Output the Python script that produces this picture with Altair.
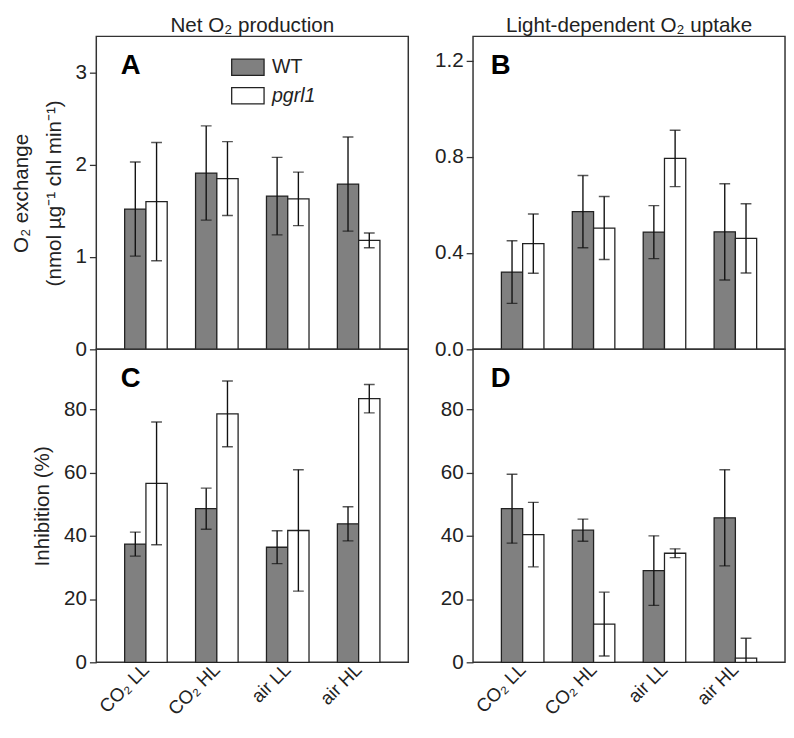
import altair as alt
import pandas as pd

conditions = ["CO₂ LL", "CO₂ HL", "air LL", "air HL"]
genotypes = ["WT", "pgrl1"]

# Panel A: Net O2 production
a_wt = [1.52, 1.91, 1.66, 1.79]
a_wt_err = [0.51, 0.51, 0.42, 0.51]
a_pg = [1.60, 1.85, 1.63, 1.18]
a_pg_err = [0.64, 0.40, 0.29, 0.08]

# Panel B: light-dependent O2 uptake
b_wt = [0.321, 0.572, 0.487, 0.488]
b_wt_err = [0.13, 0.15, 0.11, 0.20]
b_pg = [0.439, 0.504, 0.793, 0.461]
b_pg_err = [0.123, 0.131, 0.117, 0.144]

# Panel C: inhibition of net O2 production (%)
c_wt = [37.4, 48.6, 36.4, 43.8]
c_wt_err = [3.8, 6.5, 5.2, 5.4]
c_pg = [56.6, 78.6, 41.7, 83.4]
c_pg_err = [19.4, 10.4, 19.2, 4.5]

# Panel D: inhibition of O2 uptake (%)
d_wt = [48.6, 41.8, 29.0, 45.7]
d_wt_err = [10.9, 3.5, 11.0, 15.2]
d_pg = [40.4, 12.1, 34.5, 1.3]
d_pg_err = [10.2, 10.1, 1.4, 6.3]

FONT = "Liberation Sans"
INK = "#222222"
LBL = 21
XLBL = 19
TTL = 21


def frame(wt, wt_err, pg, pg_err):
    rows = []
    for i, c in enumerate(conditions):
        for g, v, e in (("WT", wt[i], wt_err[i]), ("pgrl1", pg[i], pg_err[i])):
            rows.append({"cond": c, "geno": g, "val": v, "lo": v - e, "hi": v + e})
    return pd.DataFrame(rows)


def panel(df, ymax, ticks, fmt, letter, letter_x, show_x, ytitle, legend):
    if show_x:
        xaxis = alt.Axis(title=None, labelAngle=-45, labelAlign="right", labelBaseline="middle",
                         labelPadding=4, ticks=False, domain=False, labelFontSize=XLBL,
                         labelColor=INK, labelFont=FONT)
    else:
        xaxis = None
    x = alt.X("cond:N", sort=conditions,
              scale=alt.Scale(paddingInner=0.4, paddingOuter=0.4), axis=xaxis)
    xo = alt.XOffset("geno:N", sort=genotypes,
                     scale=alt.Scale(domain=genotypes, paddingInner=0, paddingOuter=0))
    yscale = alt.Scale(domain=[0, ymax], nice=False, zero=True)
    yaxis = alt.Axis(values=ticks, format=fmt, title=ytitle, grid=False, domain=False,
                     tickSize=7, tickWidth=1.3, tickColor="#333", labelFontSize=LBL,
                     labelColor=INK, labelFont=FONT, labelPadding=3,
                     titleFontSize=TTL, titleFontWeight="normal", titleFont=FONT,
                     titleColor=INK, titlePadding=11, titleLineHeight=33)
    color = alt.Color("geno:N", sort=genotypes,
                      scale=alt.Scale(domain=genotypes, range=["#808080", "#ffffff"]),
                      legend=legend)
    base = alt.Chart(df)
    bars = base.mark_bar(stroke=INK, strokeWidth=1.3).encode(
        x=x, xOffset=xo, y=alt.Y("val:Q", scale=yscale, axis=yaxis), color=color)
    rules = base.mark_rule(color="#111", strokeWidth=1.4, clip=True).encode(
        x=x, xOffset=xo, y=alt.Y("lo:Q", scale=yscale), y2="hi:Q")
    cap_hi = base.mark_tick(color="#111", size=11, thickness=1.4, clip=True).encode(
        x=x, xOffset=xo, y=alt.Y("hi:Q", scale=yscale))
    cap_lo = base.mark_tick(color="#111", size=11, thickness=1.4, clip=True).encode(
        x=x, xOffset=xo, y=alt.Y("lo:Q", scale=yscale))
    lab = alt.Chart(pd.DataFrame({"t": [letter]})).mark_text(
        fontSize=28, fontWeight="bold", font=FONT, color="#000", align="left",
        baseline="top").encode(text="t:N", x=alt.value(letter_x), y=alt.value(16))
    return alt.layer(bars, rules, cap_hi, cap_lo, lab).properties(width=318, height=319)


legend_a = alt.Legend(title=None, orient="none", legendX=137, legendY=14,
                      symbolType="M-1,-0.5H1V0.5H-1Z", symbolSize=1089,
                      symbolStrokeColor=INK, symbolStrokeWidth=1.3, symbolOpacity=1,
                      labelFontSize=20, labelFont=FONT, labelColor=INK, labelOffset=7,
                      rowPadding=0, padding=0,
                      labelFontStyle={"expr": "datum.value == 'pgrl1' ? 'italic' : 'normal'"})

pa = panel(frame(a_wt, a_wt_err, a_pg, a_pg_err), 3.39, [0, 1, 2, 3], "d", "A", 25, False,
           ["O₂ exchange", "(nmol µg⁻¹ chl min⁻¹)"], legend_a).properties(
    title=alt.TitleParams("Net O₂ production", fontSize=TTL, fontWeight="normal", font=FONT,
                          color=INK, anchor="middle", offset=0))
pb = panel(frame(b_wt, b_wt_err, b_pg, b_pg_err), 1.3, [0, 0.4, 0.8, 1.2], ".1f", "B", 18,
           False, None, None).properties(
    title=alt.TitleParams("Light-dependent O₂ uptake", fontSize=TTL, fontWeight="normal",
                          font=FONT, color=INK, anchor="middle", offset=0))
pc = panel(frame(c_wt, c_wt_err, c_pg, c_pg_err), 99, [0, 20, 40, 60, 80], "d", "C", 25, True,
           "Inhibition (%)", None)
pd_ = panel(frame(d_wt, d_wt_err, d_pg, d_pg_err), 99, [0, 20, 40, 60, 80], "d", "D", 18, True,
            None, None)

left = alt.vconcat(pa, pc, spacing=0, bounds="flush")
right = alt.vconcat(pb, pd_, spacing=0, bounds="flush")
chart = alt.hconcat(left, right, spacing=25).resolve_legend(color="independent").configure(
    padding={"left": 2, "top": 0, "right": 0, "bottom": 0}).configure_view(
    stroke="#333", strokeWidth=1.5)

chart.save("out.html", embed_options={"renderer": "svg", "actions": False})
